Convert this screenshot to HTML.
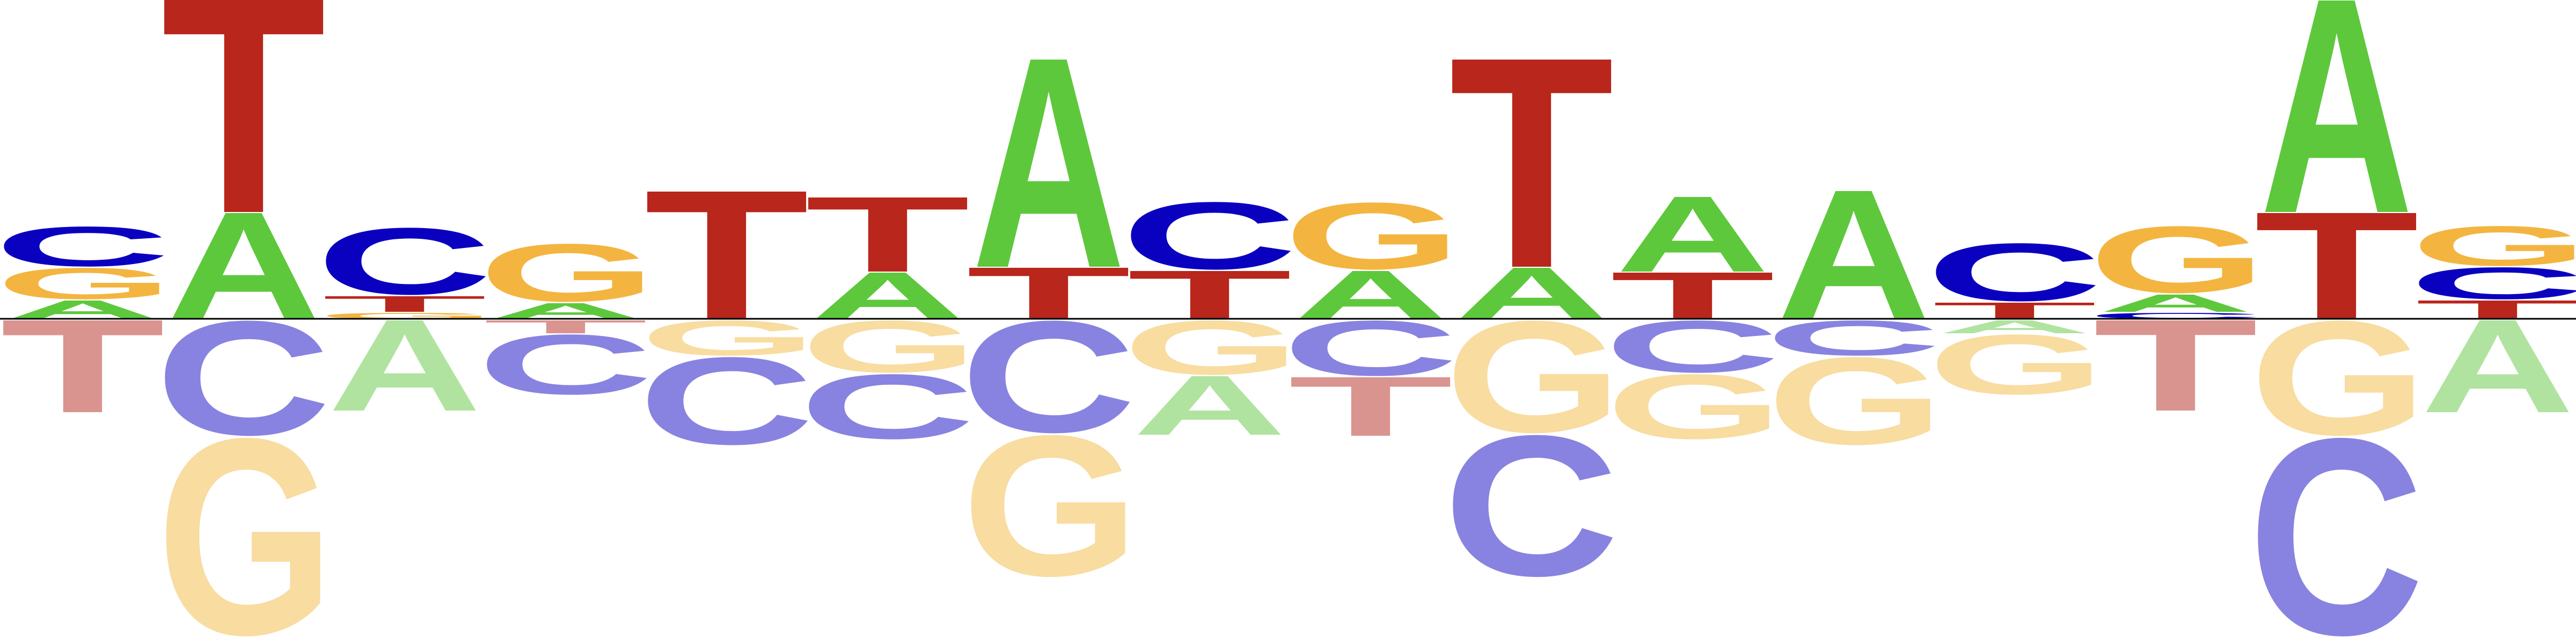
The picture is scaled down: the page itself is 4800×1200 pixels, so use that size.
<!DOCTYPE html>
<html><head><meta charset="utf-8"><style>
html,body{margin:0;padding:0;background:#fff;width:4800px;height:1200px;overflow:hidden;}
svg{display:block;overflow:hidden;}
text{font-family:"Liberation Sans",sans-serif;font-weight:bold;}
</style></head><body>
<svg id="logo" width="4800" height="1200" viewBox="0 0 4800 1200" xmlns="http://www.w3.org/2000/svg">
<g id="letters"></g>
<line id="baseline" x1="0" y1="594" x2="4800" y2="594" stroke="#000" stroke-width="3"/>
</svg>
<script>
const bases = ["A","C","G","T"];
const valuesA = [0.34, 1.97, -1.68, 0.29, 0, 0.86, 3.86, -1.09, 0.89, 0.95, 1.39, 2.38, -0.24, 0.32, 3.94, -1.71];
const valuesC = [0.75, -2.16, 1.26, -1.13, -1.65, -1.22, -2.11, 1.27, -1.04, -2.66, -0.98, -0.66, 1.09, 0.11, -3.72, 0.60];
const valuesG = [0.59, -3.72, 0.11, 1.09, -0.66, -0.98, -2.66, -1.02, 1.26, -2.11, -1.22, -1.65, -1.13, 1.26, -2.16, 0.75];
const valuesT = [-1.71, 3.95, 0.29, -0.24, 2.37, 1.38, 0.95, 0.89, -1.09, 3.86, 0.86, 0, 0.30, -1.68, 1.97, 0.34];

const seriesByBase = {A: valuesA, C: valuesC, G: valuesG, T: valuesT};
const colorUp = {A:"#5DC83C", C:"#0A00BF", G:"#F3B540", T:"#B8261C"};
const colorDown = {A:"#B0E3A0", C:"#8883E0", G:"#F8DCA0", T:"#DA9490"};
// ink boxes at font-size 100 (x0, x1, top, bottom)
const ink = {A:[0,72.2,-68.8,0], C:[4.9,67.7,-70.0,1.2], G:[4.4,71.7,-70.0,1.2], T:[2.1,59.0,-68.8,0]};

const baselineY = 594, pxPerUnit = 100, colLeft = 11, colPitch = 300, colWidth = 286, gap = 2;
function xScale(i){ return colLeft + colPitch*i; }
function hScale(v){ return Math.abs(v)*pxPerUnit; }

const g = document.getElementById("letters");
const NS = "http://www.w3.org/2000/svg";
const n = valuesA.length;
for (let i=0;i<n;i++){
  const items = bases.map(b => ({b, v: seriesByBase[b][i]})).filter(o => o.v !== 0);
  const pos = items.filter(o=>o.v>0).sort((a,b)=>a.v-b.v);
  const neg = items.filter(o=>o.v<0).sort((a,b)=>b.v-a.v);
  const x0 = xScale(i);
  let y = baselineY;
  pos.forEach(o => { const h = hScale(o.v); draw(o.b, x0, y-h, h, colorUp[o.b], i, "up"); y -= h + gap; });
  y = baselineY + 3;
  neg.forEach(o => { const h = hScale(o.v); draw(o.b, x0, y, h, colorDown[o.b], i, "down"); y += h + gap; });
}
function draw(b, x, top, h, color, i, dir){
  const box = ink[b];
  const sx = colWidth/(box[1]-box[0]);
  const sy = h/(box[3]-box[2]);
  const t = document.createElementNS(NS,"text");
  t.setAttribute("x", 0); t.setAttribute("y", 0);
  t.setAttribute("font-size", 100);
  t.setAttribute("fill", color);
  t.setAttribute("transform", `translate(${x},${top}) scale(${sx},${sy}) translate(${-box[0]},${-box[2]})`);
  
  
  t.textContent = b;
  g.appendChild(t);
}
</script>
</body></html>
